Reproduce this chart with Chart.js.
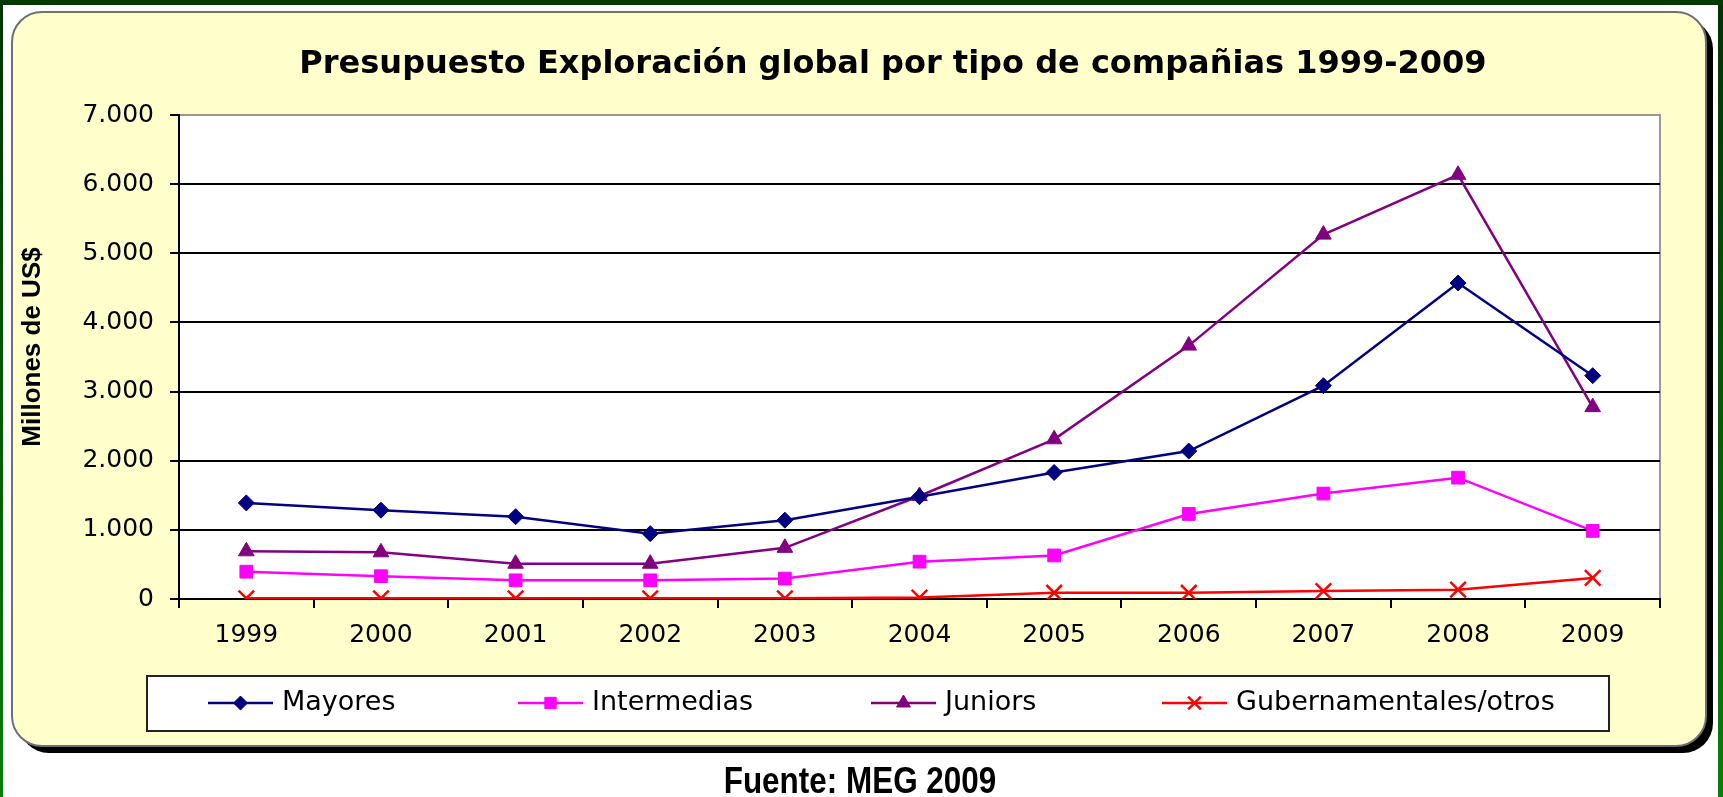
<!DOCTYPE html>
<html><head><meta charset="utf-8">
<style>html,body{margin:0;padding:0;background:#fff;overflow:hidden}canvas{display:block}</style>
<script src="https://cdn.jsdelivr.net/npm/chart.js@4.4.0/dist/chart.umd.min.js"></script>
</head><body>
<canvas id="c" width="1723" height="797"></canvas>
<script>
// ---- data ----
const years = ['1999','2000','2001','2002','2003','2004','2005','2006','2007','2008','2009'];
const mayores = [1390, 1285, 1190, 945, 1140, 1480, 1830, 2140, 3085, 4570, 3230];
const intermedias = [395, 330, 270, 270, 295, 540, 630, 1230, 1525, 1755, 985];
const juniors = [690, 675, 510, 510, 740, 1490, 2310, 3665, 5270, 6135, 2775];
const gubernamentales = [10, 10, 10, 10, 10, 20, 90, 90, 115, 135, 305];
const seriesNames = ['Mayores', 'Intermedias', 'Juniors', 'Gubernamentales/otros'];
const yTickLabels = ['0', '1.000', '2.000', '3.000', '4.000', '5.000', '6.000', '7.000'];
const titleText = 'Presupuesto Exploración global por tipo de compañias 1999-2009';
const yTitleText = 'Millones de US$';
const sourceText = 'Fuente: MEG 2009';

function roundRect(ctx, x, y, w, h, r) {
  ctx.beginPath();
  ctx.moveTo(x + r, y);
  ctx.lineTo(x + w - r, y);
  ctx.arcTo(x + w, y, x + w, y + r, r);
  ctx.lineTo(x + w, y + h - r);
  ctx.arcTo(x + w, y + h, x + w - r, y + h, r);
  ctx.lineTo(x + r, y + h);
  ctx.arcTo(x, y + h, x, y + h - r, r);
  ctx.lineTo(x, y + r);
  ctx.arcTo(x, y, x + r, y, r);
  ctx.closePath();
}

const deco = {
  id: 'deco',
  beforeDraw(chart) {
    const ctx = chart.ctx, W = chart.width, H = chart.height;
    ctx.save();
    ctx.fillStyle = '#fff';
    ctx.fillRect(0, 0, W, H);
    const g = ctx.createLinearGradient(0, 0, 0, H);
    g.addColorStop(0, '#003300');
    g.addColorStop(1, '#0b7d0b');
    ctx.fillStyle = g;
    ctx.fillRect(0, 0, 3, H);
    ctx.fillRect(W - 5, 0, 5, H);
    ctx.fillStyle = '#003a00';
    ctx.fillRect(0, 0, W, 5);
    // shadow
    roundRect(ctx, 19, 19, 1694, 734, 30);
    ctx.fillStyle = '#000';
    ctx.fill();
    // box
    roundRect(ctx, 12, 12, 1694, 734, 30);
    ctx.fillStyle = '#FFFFCC';
    ctx.fill();
    ctx.strokeStyle = '#6f6f6f';
    ctx.lineWidth = 2;
    ctx.stroke();
    // plot area
    const a = chart.chartArea;
    ctx.fillStyle = '#fff';
    ctx.fillRect(a.left, a.top, a.right - a.left, a.bottom - a.top);
    ctx.strokeStyle = '#999';
    ctx.lineWidth = 2;
    ctx.beginPath();
    ctx.moveTo(a.left, a.top);
    ctx.lineTo(a.right, a.top);
    ctx.lineTo(a.right, a.bottom);
    ctx.stroke();
    // title
    ctx.fillStyle = '#000';
    ctx.font = 'bold 32px "DejaVu Sans"';
    ctx.textAlign = 'center';
    ctx.textBaseline = 'alphabetic';
    ctx.fillText(titleText, 893, 73);
    // y title
    ctx.save();
    ctx.translate(33, 347);
    ctx.rotate(-Math.PI / 2);
    ctx.font = 'bold 26px "Liberation Sans"';
    ctx.textBaseline = 'middle';
    ctx.fillText(yTitleText, 0, 0);
    ctx.restore();
    // source
    ctx.save();
    ctx.translate(860, 793);
    ctx.scale(0.85, 1);
    ctx.font = 'bold 37px "Liberation Sans"';
    ctx.textAlign = 'center';
    ctx.fillText(sourceText, 0, 0);
    ctx.restore();
    ctx.restore();
  },
  afterDraw(chart) {
    const ctx = chart.ctx;
    ctx.save();
    ctx.fillStyle = '#fff';
    ctx.fillRect(147, 676, 1462, 55);
    ctx.strokeStyle = '#222';
    ctx.lineWidth = 2;
    ctx.strokeRect(147, 676, 1462, 55);
    const xs = [208, 518, 871, 1162];
    const yc = 703;
    const legendRadius = [7, 8, 8, 9];
    chart.data.datasets.forEach((ds, i) => {
      const x0 = xs[i];
      ctx.strokeStyle = ds.borderColor;
      ctx.lineWidth = 2.5;
      ctx.beginPath();
      ctx.moveTo(x0, yc);
      ctx.lineTo(x0 + 65, yc);
      ctx.stroke();
      ctx.fillStyle = ds.pointBackgroundColor;
      ctx.strokeStyle = ds.pointBorderColor;
      ctx.lineWidth = ds.pointBorderWidth;
      Chart.helpers.drawPoint(ctx, {pointStyle: ds.pointStyle, radius: legendRadius[i], rotation: 0, borderWidth: ds.pointBorderWidth}, x0 + 32.5, yc);
      ctx.fillStyle = '#000';
      ctx.font = '27px "DejaVu Sans"';
      ctx.textAlign = 'left';
      ctx.textBaseline = 'middle';
      ctx.fillText(ds.label, x0 + 74, yc);
    });
    ctx.restore();
  }
};

const tickFont = {family: 'DejaVu Sans', size: 25};

new Chart(document.getElementById('c'), {
  type: 'line',
  data: {
    labels: years,
    datasets: [
      {label: seriesNames[0], data: mayores, borderColor: '#000080', backgroundColor: '#000080',
       pointStyle: 'rectRot', pointRadius: 8, pointBackgroundColor: '#000080', pointBorderColor: '#000080', pointBorderWidth: 1, borderWidth: 2.5},
      {label: seriesNames[1], data: intermedias, borderColor: '#FF00FF', backgroundColor: '#FF00FF',
       pointStyle: 'rect', pointRadius: 9, pointBackgroundColor: '#FF00FF', pointBorderColor: '#FF00FF', pointBorderWidth: 1, borderWidth: 2.5},
      {label: seriesNames[2], data: juniors, borderColor: '#800080', backgroundColor: '#800080',
       pointStyle: 'triangle', pointRadius: 9, pointBackgroundColor: '#800080', pointBorderColor: '#800080', pointBorderWidth: 1, borderWidth: 2.5},
      {label: seriesNames[3], data: gubernamentales, borderColor: '#FF0000', backgroundColor: '#FF0000',
       pointStyle: 'crossRot', pointRadius: 11, pointBackgroundColor: '#FF0000', pointBorderColor: '#FF0000', pointBorderWidth: 2.5, borderWidth: 2.5}
    ]
  },
  options: {
    responsive: false,
    devicePixelRatio: 1,
    animation: false,
    layout: {padding: {left: 0, top: 115, right: 63, bottom: 138}},
    elements: {line: {tension: 0, fill: false}},
    plugins: {legend: {display: false}, tooltip: {enabled: false}, title: {display: false}},
    scales: {
      x: {
        offset: true,
        ticks: {padding: 12, color: '#000', font: tickFont, maxRotation: 0, autoSkip: false},
        grid: {offset: true, drawOnChartArea: false, drawTicks: true, tickLength: 9, color: '#000', lineWidth: 2},
        border: {color: '#000', width: 2},
        afterFit: s => { s.height = 60; }
      },
      y: {
        min: 0, max: 7000,
        ticks: {stepSize: 1000, padding: 16, color: '#000', font: tickFont, callback: (v, i) => yTickLabels[i]},
        grid: {color: c => (c.tick && c.tick.value === 7000) ? '#999' : '#000', lineWidth: 2, tickLength: 9, tickColor: '#000', tickWidth: 2},
        border: {color: '#000', width: 2},
        afterFit: s => { s.width = 179; }
      }
    }
  },
  plugins: [deco]
});
</script>
</body></html>
